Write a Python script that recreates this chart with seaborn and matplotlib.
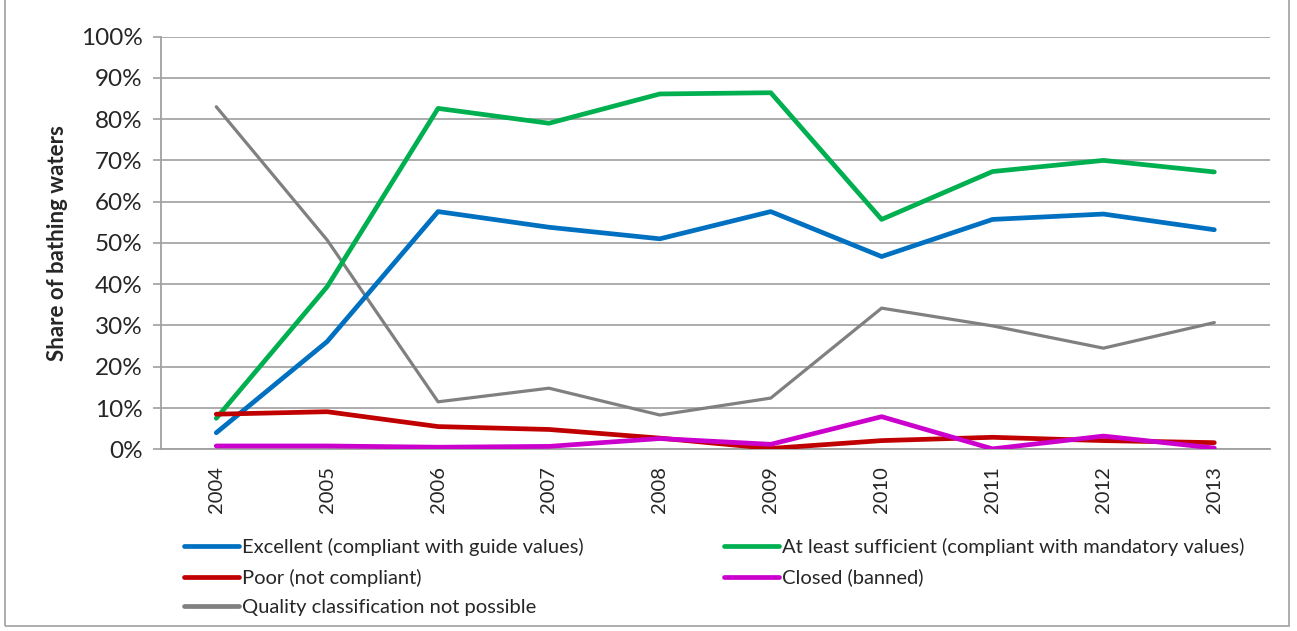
import numpy as np
import pandas as pd
import matplotlib
matplotlib.use("Agg")
import matplotlib.pyplot as plt
import seaborn as sns
from matplotlib.lines import Line2D
from matplotlib.patches import Rectangle

years = ["2004", "2005", "2006", "2007", "2008", "2009", "2010", "2011", "2012", "2013"]
excellent = [4.0, 26.1, 57.6, 53.8, 51.0, 57.6, 46.7, 55.7, 57.0, 53.2]
sufficient = [7.5, 39.4, 82.6, 79.0, 86.1, 86.4, 55.7, 67.3, 70.0, 67.2]
poor = [8.5, 9.1, 5.5, 4.8, 2.7, 0.2, 2.1, 2.9, 2.1, 1.6]
closed = [0.8, 0.8, 0.5, 0.7, 2.6, 1.2, 7.9, 0.1, 3.2, 0.3]
not_possible = [83.0, 50.7, 11.5, 14.8, 8.3, 12.4, 34.2, 29.9, 24.5, 30.7]

labels = [
    "Excellent (compliant with guide values)",
    "At least sufficient (compliant with mandatory values)",
    "Poor (not compliant)",
    "Closed (banned)",
    "Quality classification not possible",
]
colors = ["#0070C0", "#00B050", "#C00000", "#CC00CC", "#808080"]
widths = [3.4, 3.4, 3.4, 3.4, 2.3]

series = [excellent, sufficient, poor, closed, not_possible]
rows = []
for lab, vals in zip(labels, series):
    for i, v in enumerate(vals):
        rows.append({"pos": i, "year": years[i], "value": v / 100.0, "series": lab})
df = pd.DataFrame(rows)

sns.set_style("white")
plt.rcParams["font.family"] = ["Lato", "DejaVu Sans"]

fig = plt.figure(figsize=(12.97, 6.31), dpi=100)
ax = fig.add_axes([0.124, 0.288, 0.855, 0.654])

# gray line first so the coloured ones sit on top
order = [4, 0, 1, 2, 3]
for k in order:
    sub = df[df["series"] == labels[k]]
    sns.lineplot(data=sub, x="pos", y="value", color=colors[k], lw=widths[k],
                 ax=ax, legend=False, zorder=3 + (k != 4))

ax.set_xlim(-0.5, len(years) - 0.5)
ax.set_ylim(0, 1.0)
yt = np.arange(0, 1.01, 0.1)
ax.set_yticks(yt)
ax.set_yticklabels([f"{int(round(t * 100))}%" for t in yt], fontsize=17.5)
ax.set_xticks(np.arange(len(years)))
ax.set_xticklabels(years, rotation=90, fontsize=14.5)
ax.set_xticks(np.arange(-0.5, len(years)), minor=True)
ax.tick_params(axis="x", which="major", length=0, pad=12)
ax.tick_params(axis="x", which="minor", length=8, color="#A0A0A0", width=1.2)
ax.tick_params(axis="y", length=6, color="#A0A0A0", width=1.2, pad=7, left=True)
ax.grid(axis="y", color="#A6A6A6", lw=1.3)
ax.set_axisbelow(True)
for s in ["top", "right"]:
    ax.spines[s].set_visible(False)
for s in ["left", "bottom"]:
    ax.spines[s].set_color("#A0A0A0")
    ax.spines[s].set_linewidth(1.3)
ax.set_xlabel("")
ax.set_ylabel("Share of bathing waters", fontsize=16, fontweight="bold", labelpad=9)

handles = [Line2D([0], [0], color=colors[k], lw=3.4) for k in range(5)]
leg_order = [0, 2, 4, 1, 3]
fig.legend([handles[k] for k in leg_order], [labels[k] for k in leg_order],
           loc="upper left", bbox_to_anchor=(0.136, 0.16), ncol=2, frameon=False,
           fontsize=14.5, handlelength=2.7, handletextpad=0.15, columnspacing=7.0,
           labelspacing=0.62, borderaxespad=0)

fig.patches.append(Rectangle((0.004, 0.008), 0.99, 1.1, transform=fig.transFigure,
                             fill=False, edgecolor="#A0A0A0", lw=1.2))

fig.savefig("out.png", dpi=100)
plt.close(fig)
